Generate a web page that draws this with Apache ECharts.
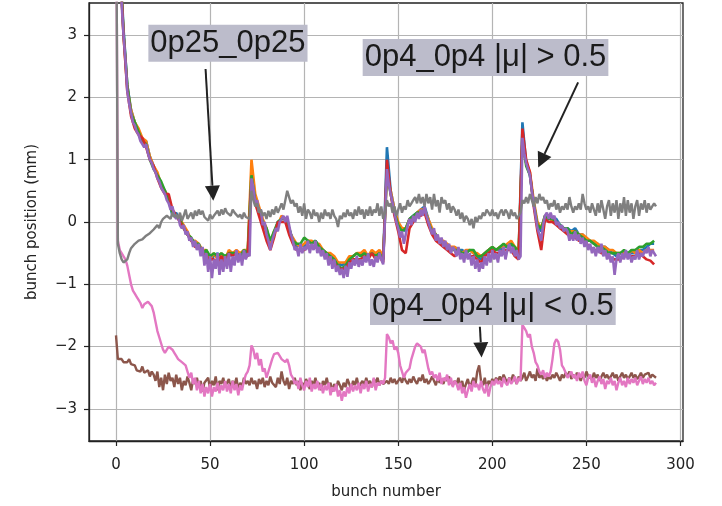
<!DOCTYPE html>
<html>
<head>
<meta charset="utf-8">
<script src="https://cdn.jsdelivr.net/npm/echarts@6/dist/echarts.min.js"></script>
<style>html,body{margin:0;padding:0;background:#fff;}#c{width:722px;height:506px;}</style>
</head>
<body>
<div id="c"></div>
<script>
// ---- tick labels ----
const xTicks = [0, 50, 100, 150, 200, 250, 300];
const yTicks = [-3, -2, -1, 0, 1, 2, 3];

// ---- series values, one per bunch (0..287) ----
const purple = [
 9.0, 6.0, 4.2, 3.5, 3.0, 2.6, 2.1, 1.9, 1.75, 1.6, 1.55, 1.45,
 1.4, 1.3, 1.25, 1.2, 1.25, 1.1, 1.0, 0.95, 0.85, 0.8, 0.7, 0.65,
 0.55, 0.5, 0.45, 0.35, 0.3, 0.2, 0.25, 0.1, 0.05, 0.1, -0.05, -0.1,
 -0.05, -0.2, -0.15, -0.3, -0.25, -0.4, -0.3, -0.45, -0.35, -0.55, -0.4, -0.7,
 -0.5, -0.8, -0.55, -0.9, -0.6, -0.75, -0.5, -0.85, -0.6, -0.8, -0.55, -0.75,
 -0.5, -0.8, -0.55, -0.7, -0.45, -0.65, -0.5, -0.7, -0.45, -0.6, -0.5, -0.55,
 0.7, 0.55, 0.3, 0.35, 0.15, 0.2, -0.05, 0.0, -0.2, -0.3, -0.45, -0.3,
 -0.2, -0.1, -0.15, 0.0, 0.05, 0.1, 0.0, 0.1, -0.05, -0.2, -0.3, -0.45,
 -0.4, -0.55, -0.35, -0.5, -0.4, -0.45, -0.3, -0.5, -0.35, -0.45, -0.3, -0.5,
 -0.4, -0.55, -0.45, -0.6, -0.5, -0.7, -0.55, -0.75, -0.6, -0.8, -0.7, -0.85,
 -0.75, -0.9, -0.7, -0.88, -0.65, -0.75, -0.6, -0.7, -0.55, -0.72, -0.6, -0.7,
 -0.55, -0.65, -0.5, -0.7, -0.6, -0.72, -0.55, -0.65, -0.5, -0.6, -0.68, -0.65,
 0.85, 0.6, 0.45, 0.3, 0.15, 0.0, -0.1, -0.25, -0.15, -0.35, -0.2, -0.05,
 0.05, -0.05, 0.1, 0.0, 0.15, 0.05, 0.2, 0.1, 0.25, 0.1, 0.0, -0.1,
 -0.2, -0.1, -0.3, -0.2, -0.35, -0.25, -0.4, -0.3, -0.45, -0.35, -0.5, -0.4,
 -0.45, -0.55, -0.4, -0.6, -0.5, -0.65, -0.45, -0.6, -0.5, -0.7, -0.55, -0.75,
 -0.6, -0.8, -0.65, -0.75, -0.55, -0.7, -0.5, -0.65, -0.45, -0.6, -0.5, -0.65,
 -0.45, -0.55, -0.4, -0.6, -0.45, -0.35, -0.5, -0.4, -0.55, -0.45, -0.6, -0.55,
 1.35, 1.1, 0.95, 0.85, 0.75, 0.5, 0.3, 0.1, -0.1, -0.2, -0.3, -0.05,
 0.1, 0.15, 0.05, 0.15, 0.05, 0.1, -0.05, 0.0, -0.1, -0.05, -0.15, -0.1,
 -0.15, -0.3, -0.2, -0.3, -0.15, -0.3, -0.2, -0.35, -0.25, -0.4, -0.3, -0.45,
 -0.35, -0.5, -0.4, -0.55, -0.4, -0.5, -0.35, -0.55, -0.45, -0.6, -0.5, -0.65,
 -0.55, -0.85, -0.6, -0.5, -0.65, -0.5, -0.6, -0.45, -0.6, -0.5, -0.65, -0.55,
 -0.6, -0.45, -0.6, -0.5, -0.55, -0.45, -0.5, -0.4, -0.55, -0.45, -0.5, -0.55
];
const gray = [
 6.0, -0.35, -0.5, -0.6, -0.65, -0.67, -0.6, -0.5, -0.42, -0.45, -0.35, -0.38,
 -0.3, -0.32, -0.28, -0.3, -0.22, -0.25, -0.18, -0.2, -0.12, -0.15, -0.05, -0.1,
 0.0, 0.05, 0.02, 0.1, 0.13, 0.05, 0.15, 0.08, 0.12, 0.05, 0.15, 0.02,
 0.1, 0.2, 0.05, 0.07, 0.15, 0.05, 0.18, 0.1, 0.2, 0.12, 0.18, 0.08,
 0.1, 0.02, 0.12, 0.05, 0.1, 0.07, 0.18, 0.1, 0.2, 0.12, 0.22, 0.15,
 0.18, 0.1, 0.2, 0.15, 0.18, 0.08, 0.12, 0.05, 0.15, 0.08, 0.1, 0.05,
 0.5, 0.35, 0.25, 0.3, 0.15, 0.2, 0.1, 0.15, 0.05, 0.18, 0.08, 0.2,
 0.12, 0.25, 0.15, 0.22, 0.3, 0.2, 0.35, 0.5, 0.4, 0.3, 0.35, 0.25,
 0.3, 0.15, 0.25, 0.1, 0.3, 0.05, 0.2, 0.15, 0.05, 0.2, 0.1, 0.15,
 0.0, 0.15, 0.05, 0.2, 0.1, 0.15, 0.05, 0.2, 0.1, 0.05, -0.08, 0.1,
 0.05, 0.15, 0.08, 0.2, 0.1, 0.15, 0.05, 0.2, 0.1, 0.25, 0.12, 0.2,
 0.05, 0.2, 0.1, 0.25, 0.1, 0.2, 0.15, 0.3, 0.1, 0.25, 0.05, 0.15,
 0.35, 0.25, 0.3, 0.15, 0.25, 0.1, 0.2, 0.3, 0.15, 0.25, 0.2, 0.35,
 0.25, 0.3, 0.35, 0.4, 0.3, 0.45, 0.3, 0.4, 0.25, 0.45, 0.3, 0.4,
 0.2, 0.45, 0.25, 0.35, 0.15, 0.4, 0.3, 0.35, 0.2, 0.3, 0.15, 0.25,
 0.2, 0.1, 0.2, 0.05, 0.15, 0.0, 0.1, 0.05, -0.05, 0.05, -0.1, 0.08,
 0.0, 0.1, 0.05, 0.15, 0.1, 0.2, 0.15, 0.1, 0.2, 0.1, 0.15, 0.05,
 0.15, 0.2, 0.1, 0.2, 0.15, 0.05, 0.2, 0.1, 0.15, 0.05, 0.1, 0.15,
 0.35, 0.3, 0.4, 0.3, 0.45, 0.35, 0.25, 0.4, 0.3, 0.45, 0.35, 0.4,
 0.3, 0.35, 0.2, 0.3, 0.25, 0.35, 0.2, 0.3, 0.15, 0.25, 0.2, 0.3,
 0.2, 0.4, 0.25, 0.15, 0.25, 0.2, 0.3, 0.2, 0.45, 0.3, 0.2, 0.25,
 0.15, 0.3, 0.2, 0.1, 0.3, 0.15, 0.35, 0.2, 0.05, 0.25, 0.35, 0.1,
 0.3, 0.15, 0.35, 0.05, 0.3, 0.15, 0.4, 0.1, 0.35, 0.15, 0.3, 0.05,
 0.25, 0.35, 0.1, 0.3, 0.2, 0.35, 0.15, 0.3, 0.2, 0.25, 0.3, 0.25
];
const brown = [
 -1.82, -2.2, -2.22, -2.2, -2.25, -2.22, -2.25, -2.2, -2.28, -2.25, -2.3, -2.38,
 -2.35, -2.4, -2.32, -2.42, -2.45, -2.38, -2.48, -2.4, -2.45, -2.55, -2.4, -2.65,
 -2.5, -2.7, -2.45, -2.6, -2.42, -2.55, -2.5, -2.65, -2.45, -2.6, -2.5, -2.7,
 -2.55, -2.62, -2.48, -2.58, -2.7, -2.52, -2.6, -2.5, -2.65, -2.55, -2.72, -2.58,
 -2.6, -2.5, -2.68, -2.55, -2.62, -2.48, -2.7, -2.55, -2.6, -2.5, -2.65, -2.58,
 -2.52, -2.68, -2.55, -2.62, -2.5, -2.7, -2.58, -2.65, -2.5, -2.6, -2.55, -2.62,
 -2.5, -2.6, -2.55, -2.68, -2.52, -2.6, -2.5, -2.65, -2.55, -2.62, -2.48, -2.58,
 -2.55, -2.65, -2.5, -2.6, -2.4, -2.55, -2.62, -2.5, -2.68, -2.55, -2.6, -2.5,
 -2.62, -2.55, -2.7, -2.58, -2.65, -2.52, -2.6, -2.68, -2.55, -2.62, -2.5, -2.65,
 -2.58, -2.7, -2.55, -2.62, -2.5, -2.65, -2.58, -2.72, -2.6, -2.68, -2.55, -2.62,
 -2.7, -2.58, -2.65, -2.52, -2.6, -2.68, -2.55, -2.62, -2.5, -2.65, -2.6, -2.55,
 -2.62, -2.5, -2.6, -2.55, -2.65, -2.52, -2.58, -2.5, -2.62, -2.55, -2.6, -2.58,
 -2.55, -2.6, -2.5, -2.58, -2.52, -2.6, -2.55, -2.5, -2.58, -2.48, -2.55, -2.6,
 -2.52, -2.58, -2.48, -2.55, -2.6, -2.5, -2.55, -2.45, -2.58, -2.52, -2.6, -2.55,
 -2.48, -2.55, -2.62, -2.5, -2.58, -2.52, -2.6, -2.5, -2.55, -2.48, -2.58, -2.62,
 -2.55, -2.6, -2.5, -2.65, -2.55, -2.7, -2.6, -2.52, -2.65, -2.58, -2.5, -2.62,
 -2.4, -2.3, -2.55, -2.62, -2.5, -2.68, -2.55, -2.6, -2.52, -2.58, -2.5, -2.55,
 -2.48, -2.55, -2.45, -2.52, -2.58, -2.5, -2.55, -2.45, -2.52, -2.6, -2.48, -2.55,
 -2.5, -2.42, -2.55, -2.48, -2.4, -2.5, -2.45, -2.55, -2.35, -2.5, -2.45, -2.52,
 -2.45, -2.55, -2.48, -2.52, -2.45, -2.5, -2.42, -2.48, -2.55, -2.45, -2.5, -2.42,
 -2.48, -2.4, -2.52, -2.45, -2.5, -2.42, -2.48, -2.55, -2.45, -2.5, -2.4, -2.48,
 -2.45, -2.52, -2.42, -2.5, -2.45, -2.55, -2.48, -2.42, -2.5, -2.45, -2.52, -2.48,
 -2.42, -2.5, -2.45, -2.55, -2.48, -2.42, -2.5, -2.45, -2.52, -2.48, -2.42, -2.5,
 -2.45, -2.52, -2.48, -2.42, -2.5, -2.45, -2.48, -2.42, -2.5, -2.45, -2.48, -2.5
];
const pink = [
 6.0, -0.3, -0.45, -0.5, -0.55, -0.6, -0.7, -0.85, -1.0, -1.1, -1.15, -1.2,
 -1.25, -1.3, -1.38, -1.32, -1.35, -1.28, -1.3, -1.35, -1.45, -1.6, -1.75, -1.85,
 -1.95, -2.05, -2.1, -2.12, -2.0, -1.98, -2.05, -2.1, -2.15, -2.2, -2.18, -2.25,
 -2.22, -2.3, -2.4, -2.5, -2.42, -2.6, -2.5, -2.7, -2.55, -2.75, -2.6, -2.8,
 -2.65, -2.75, -2.6, -2.8, -2.65, -2.72, -2.58, -2.75, -2.62, -2.7, -2.55, -2.72,
 -2.6, -2.75, -2.55, -2.7, -2.6, -2.78, -2.62, -2.7, -2.55, -2.45, -2.4, -2.3,
 -1.98, -2.05, -2.2, -2.1, -2.3, -2.2, -2.4, -2.35, -2.5, -2.4, -2.3, -2.2,
 -2.12, -2.15, -2.1, -2.15, -2.2, -2.18, -2.25, -2.2, -2.3, -2.45, -2.5, -2.6,
 -2.55, -2.68, -2.5, -2.62, -2.7, -2.55, -2.65, -2.5, -2.72, -2.6, -2.68, -2.55,
 -2.7, -2.6, -2.75, -2.62, -2.7, -2.58, -2.78, -2.65, -2.72, -2.6, -2.8, -2.7,
 -2.87, -2.72, -2.8, -2.65, -2.75, -2.6, -2.72, -2.62, -2.7, -2.58, -2.75, -2.6,
 -2.68, -2.55, -2.72, -2.6, -2.65, -2.5, -2.7, -2.58, -2.62, -2.55, -2.6, -2.5,
 -1.8, -1.85, -1.95, -1.9, -2.05, -2.0, -2.1, -2.3, -2.4, -2.5, -2.42, -2.45,
 -2.35, -2.2, -2.1, -2.0, -1.95, -1.92, -2.0, -2.1, -2.05, -2.2, -2.35, -2.45,
 -2.4, -2.5, -2.45, -2.55, -2.42, -2.6, -2.5, -2.55, -2.45, -2.62, -2.5, -2.65,
 -2.55, -2.6, -2.7, -2.58, -2.75, -2.65, -2.82, -2.7, -2.6, -2.72, -2.55, -2.65,
 -2.6, -2.7, -2.55, -2.68, -2.75, -2.6, -2.8, -2.65, -2.55, -2.62, -2.52, -2.6,
 -2.55, -2.65, -2.5, -2.58, -2.62, -2.5, -2.6, -2.55, -2.48, -2.6, -2.5, -2.55,
 -1.65, -1.7, -1.75, -1.85, -1.8, -2.0, -2.1, -2.25, -2.3, -2.4, -2.45, -2.38,
 -2.5, -2.42, -2.48, -2.4, -2.2, -1.95, -1.88, -1.92, -2.05, -2.3, -2.35, -2.42,
 -2.5, -2.45, -2.4, -2.5, -2.45, -2.55, -2.42, -2.5, -2.4, -2.55, -2.62, -2.5,
 -2.45, -2.58, -2.5, -2.65, -2.55, -2.48, -2.6, -2.52, -2.68, -2.55, -2.6, -2.5,
 -2.62, -2.55, -2.7, -2.58, -2.5, -2.62, -2.55, -2.65, -2.5, -2.6, -2.52, -2.58,
 -2.5, -2.62, -2.55, -2.48, -2.6, -2.52, -2.58, -2.5, -2.6, -2.55, -2.62, -2.58
];

// ---- series read every second bunch (0, 2, 4, ..., 286); mostly hidden under purple ----
const blue = [
 9.0, 4.3, 3.1, 2.2, 1.8, 1.6, 1.45, 1.3, 1.3, 1.05, 0.9, 0.75,
 0.6, 0.5, 0.35, 0.1, 0.15, 0.0, -0.1, -0.2, -0.3, -0.35, -0.4, -0.45,
 -0.5, -0.6, -0.55, -0.5, -0.6, -0.6, -0.55, -0.5, -0.5, -0.55, -0.5, -0.5,
 0.8, 0.35, 0.2, 0.0, -0.15, -0.4, -0.2, 0.0, 0.05, 0.05, -0.1, -0.3,
 -0.4, -0.35, -0.4, -0.3, -0.35, -0.3, -0.4, -0.45, -0.5, -0.55, -0.6, -0.65,
 -0.7, -0.65, -0.6, -0.55, -0.5, -0.55, -0.5, -0.55, -0.5, -0.55, -0.5, -0.6,
 1.2, 0.5, 0.2, -0.05, -0.1, -0.15, 0.05, 0.1, 0.15, 0.2, 0.25, 0.05,
 -0.15, -0.25, -0.3, -0.35, -0.4, -0.45, -0.4, -0.45, -0.45, -0.5, -0.45, -0.5,
 -0.55, -0.6, -0.5, -0.45, -0.4, -0.45, -0.45, -0.4, -0.4, -0.35, -0.45, -0.5,
 1.6, 0.95, 0.75, 0.3, -0.05, -0.15, 0.1, 0.05, 0.05, 0.05, -0.05, -0.1,
 -0.1, -0.15, -0.1, -0.2, -0.2, -0.3, -0.3, -0.35, -0.35, -0.4, -0.4, -0.45,
 -0.5, -0.55, -0.5, -0.5, -0.5, -0.5, -0.5, -0.45, -0.45, -0.4, -0.35, -0.35
];
const orange = [
 9.0, 4.2, 3.0, 2.15, 1.8, 1.6, 1.5, 1.35, 1.3, 1.05, 0.9, 0.8,
 0.6, 0.5, 0.4, 0.15, 0.1, 0.05, -0.05, -0.15, -0.3, -0.3, -0.35, -0.45,
 -0.45, -0.6, -0.5, -0.6, -0.5, -0.6, -0.45, -0.5, -0.45, -0.5, -0.45, -0.45,
 1.0, 0.45, 0.25, 0.05, -0.1, -0.35, -0.15, -0.05, 0.1, 0.05, -0.15, -0.25,
 -0.35, -0.4, -0.35, -0.3, -0.3, -0.35, -0.35, -0.45, -0.5, -0.5, -0.55, -0.65,
 -0.65, -0.65, -0.55, -0.55, -0.5, -0.5, -0.45, -0.55, -0.45, -0.5, -0.45, -0.55,
 0.75, 0.5, 0.2, 0.0, -0.1, -0.1, 0.05, 0.05, 0.15, 0.2, 0.2, 0.05,
 -0.1, -0.2, -0.3, -0.3, -0.35, -0.4, -0.4, -0.45, -0.5, -0.45, -0.45, -0.5,
 -0.5, -0.55, -0.5, -0.45, -0.4, -0.45, -0.4, -0.4, -0.35, -0.3, -0.4, -0.45,
 1.3, 0.95, 0.8, 0.35, 0.0, -0.1, 0.1, 0.1, 0.0, 0.0, -0.1, -0.1,
 -0.15, -0.15, -0.15, -0.2, -0.2, -0.25, -0.3, -0.3, -0.35, -0.4, -0.4, -0.45,
 -0.45, -0.5, -0.5, -0.5, -0.55, -0.45, -0.5, -0.45, -0.5, -0.45, -0.45, -0.45
];
const green = [
 9.0, 4.2, 3.05, 2.2, 1.75, 1.6, 1.45, 1.3, 1.25, 1.0, 0.85, 0.75,
 0.65, 0.5, 0.35, 0.15, 0.1, 0.05, -0.1, -0.2, -0.25, -0.35, -0.35, -0.5,
 -0.45, -0.55, -0.5, -0.55, -0.5, -0.55, -0.5, -0.5, -0.5, -0.55, -0.45, -0.5,
 0.75, 0.35, 0.2, 0.0, -0.1, -0.3, -0.15, 0.0, 0.05, 0.05, -0.1, -0.3,
 -0.35, -0.35, -0.25, -0.3, -0.35, -0.3, -0.4, -0.45, -0.5, -0.55, -0.6, -0.7,
 -0.75, -0.7, -0.6, -0.55, -0.5, -0.55, -0.5, -0.55, -0.5, -0.55, -0.5, -0.6,
 0.8, 0.45, 0.15, -0.05, -0.15, -0.1, 0.05, 0.1, 0.15, 0.15, 0.2, 0.0,
 -0.15, -0.2, -0.3, -0.35, -0.4, -0.45, -0.45, -0.45, -0.5, -0.5, -0.45, -0.45,
 -0.55, -0.55, -0.5, -0.45, -0.4, -0.45, -0.4, -0.35, -0.4, -0.35, -0.4, -0.5,
 1.3, 0.9, 0.75, 0.3, -0.05, -0.1, 0.1, 0.05, 0.05, 0.0, -0.05, -0.1,
 -0.1, -0.2, -0.15, -0.2, -0.25, -0.3, -0.3, -0.35, -0.4, -0.4, -0.45, -0.5,
 -0.5, -0.5, -0.5, -0.45, -0.5, -0.45, -0.45, -0.4, -0.4, -0.35, -0.35, -0.3
];
const red = [
 9.0, 4.2, 3.0, 2.1, 1.7, 1.5, 1.4, 1.35, 1.2, 1.0, 0.9, 0.7,
 0.55, 0.45, 0.45, 0.2, 0.1, 0.0, -0.1, -0.2, -0.3, -0.4, -0.4, -0.5,
 -0.55, -0.6, -0.6, -0.65, -0.55, -0.65, -0.5, -0.55, -0.5, -0.6, -0.55, -0.55,
 0.65, 0.3, 0.1, -0.1, -0.3, -0.45, -0.25, 0.0, 0.0, 0.0, -0.2, -0.35,
 -0.45, -0.45, -0.45, -0.4, -0.4, -0.4, -0.45, -0.5, -0.55, -0.6, -0.65, -0.75,
 -0.75, -0.75, -0.65, -0.6, -0.6, -0.6, -0.55, -0.6, -0.5, -0.6, -0.55, -0.65,
 1.0, 0.45, 0.1, -0.15, -0.45, -0.5, -0.1, 0.0, 0.1, 0.1, 0.15, -0.05,
 -0.2, -0.3, -0.35, -0.4, -0.45, -0.5, -0.55, -0.5, -0.55, -0.55, -0.55, -0.55,
 -0.6, -0.65, -0.55, -0.5, -0.45, -0.5, -0.5, -0.45, -0.45, -0.45, -0.55, -0.6,
 1.5, 1.0, 0.8, 0.25, -0.15, -0.45, 0.05, 0.0, 0.0, -0.05, -0.1, -0.15,
 -0.2, -0.25, -0.25, -0.3, -0.3, -0.35, -0.4, -0.45, -0.45, -0.5, -0.5, -0.55,
 -0.6, -0.6, -0.6, -0.55, -0.55, -0.55, -0.55, -0.5, -0.55, -0.6, -0.62, -0.68
];

// ---- annotations (anchored in data coordinates) ----
const notes = [
  { text: '0p25_0p25',         box: [17.2, 3.167],  from: [47.6, 2.456],   to: [51.7, 0.342] },
  { text: '0p4_0p4 |\u03bc| > 0.5', box: [131.1, 2.937], from: [245.6, 2.241], to: [224.4, 0.876] },
  { text: '0p4_0p4 |\u03bc| < 0.5', box: [135.0, -1.059], from: [193.4, -1.681], to: [194.3, -2.173] }
];

const FONT = 'DejaVu Sans';
const minusFmt = v => String(v).replace('-', '\u2212');

function everyBunch(arr) { return arr.map((v, i) => [i, v]); }
function everySecond(arr) { return arr.map((v, i) => [i * 2, v]); }
function line(name, color, data, w) {
  return { name, type: 'line', data, showSymbol: false, symbol: 'none',
           lineStyle: { color, width: w }, itemStyle: { color }, clip: true, silent: true };
}

const chart = echarts.init(document.getElementById('c'), null, { renderer: 'canvas' });
const option = {
  animation: false,
  backgroundColor: '#ffffff',
  grid: { left: 89, right: 39, top: 3, bottom: 65, show: true, borderColor: '#222', borderWidth: 1.3,
          backgroundColor: 'transparent', outerBoundsMode: 'none', containLabel: false },
  xAxis: {
    type: 'value', min: -14.35, max: 301.35,
    name: 'bunch number', nameLocation: 'middle', nameGap: 44,
    nameTextStyle: { fontFamily: FONT, fontSize: 15, color: '#222' },
    axisLine: { show: true, onZero: false, lineStyle: { color: '#222', width: 1.3 } },
    axisTick: { show: true, inside: false, length: 5, customValues: xTicks, lineStyle: { color: '#222', width: 1.2 } },
    axisLabel: { customValues: xTicks, fontFamily: FONT, fontSize: 15, color: '#222', margin: 17, formatter: minusFmt },
    splitLine: { show: true, lineStyle: { color: '#b4b4b4', width: 1.2 } }
  },
  yAxis: {
    type: 'value', min: -3.515, max: 3.515,
    name: 'bunch position (mm)', nameLocation: 'middle', nameGap: 49, nameRotate: 90,
    nameTextStyle: { fontFamily: FONT, fontSize: 15, color: '#222' },
    axisLine: { show: true, onZero: false, lineStyle: { color: '#222', width: 1.3 } },
    axisTick: { show: true, inside: false, length: 5, customValues: yTicks, lineStyle: { color: '#222', width: 1.2 } },
    axisLabel: { customValues: yTicks, fontFamily: FONT, fontSize: 15, color: '#222', margin: 12, formatter: minusFmt },
    splitLine: { show: true, lineStyle: { color: '#b4b4b4', width: 1.2 } }
  },
  series: [
    line('C0', '#1f77b4', everySecond(blue), 2.6),
    line('C1', '#ff7f0e', everySecond(orange), 2.6),
    line('C2', '#2ca02c', everySecond(green), 2.6),
    line('C3', '#d62728', everySecond(red), 2.6),
    line('C4', '#9467bd', everyBunch(purple), 2.6),
    line('C5', '#8c564b', everyBunch(brown), 2.4),
    line('C6', '#e377c2', everyBunch(pink), 2.4),
    line('C7', '#7f7f7f', everyBunch(gray), 2.4)
  ]
};
chart.setOption(option);

// build annotation graphics from data anchors
const gfx = [];
notes.forEach(n => {
  const b = chart.convertToPixel({ gridIndex: 0 }, n.box);
  const f = chart.convertToPixel({ gridIndex: 0 }, n.from);
  const t = chart.convertToPixel({ gridIndex: 0 }, n.to);
  gfx.push({
    type: 'text', x: b[0], y: b[1], z: 100,
    style: { text: n.text, font: '31px "Liberation Sans", Arial, sans-serif', fill: '#1a1a1a',
             backgroundColor: '#bcbccb', padding: [3, 2, 3, 2], align: 'left', verticalAlign: 'top' }
  });
  const dx = t[0] - f[0], dy = t[1] - f[1];
  const len = Math.sqrt(dx * dx + dy * dy);
  const ux = dx / len, uy = dy / len;
  const headL = 15, headW = 7.5;
  const bx = t[0] - ux * headL, by = t[1] - uy * headL;
  gfx.push({ type: 'line', z: 100, shape: { x1: f[0], y1: f[1], x2: bx, y2: by },
             style: { stroke: '#222', lineWidth: 2 } });
  gfx.push({ type: 'polygon', z: 100,
             shape: { points: [[t[0], t[1]], [bx - uy * headW, by + ux * headW], [bx + uy * headW, by - ux * headW]] },
             style: { fill: '#222' } });
});
chart.setOption({ graphic: gfx });
</script>
</body>
</html>
